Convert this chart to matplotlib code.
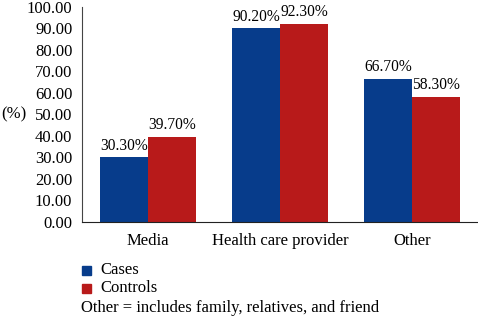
import numpy as np
import matplotlib
matplotlib.use("Agg")
import matplotlib.pyplot as plt
from matplotlib.patches import Rectangle

categories = ["Media", "Health care provider", "Other"]
cases = [30.3, 90.2, 66.7]
controls = [39.7, 92.3, 58.3]
series_names = ["Cases", "Controls"]
footnote = "Other = includes family, relatives, and friend"

blue = "#073c8b"
red = "#b81a1a"

plt.rcParams["font.family"] = ["Liberation Serif", "DejaVu Serif"]
plt.rcParams["font.size"] = 12

fig = plt.figure(figsize=(4.78, 3.17), dpi=100)
ax = fig.add_axes([0.1715, 0.2997, 0.8265, 0.6783])

x = np.arange(len(categories))
w = 0.364
b1 = ax.bar(x - w / 2, cases, w, color=blue)
b2 = ax.bar(x + w / 2, controls, w, color=red)

for bars, vals in ((b1, cases), (b2, controls)):
    for r, v in zip(bars, vals):
        ax.text(r.get_x() + r.get_width() / 2, v + 1.5, f"{v:.2f}%",
                ha="center", va="bottom", fontsize=11.2)

ax.set_xlim(-0.5, 2.49)
ax.set_ylim(0, 100)
ax.set_yticks(np.arange(0, 101, 10))
ax.set_yticklabels([f"{t:.2f}" for t in np.arange(0, 101, 10)])
ax.set_xticks(x)
ax.set_xticklabels(categories)
ax.tick_params(axis="x", length=0, pad=8)
ax.tick_params(axis="y", length=0, pad=7)
for s in ("top", "right"):
    ax.spines[s].set_visible(False)
ax.spines["left"].set_color("#444444")
ax.spines["bottom"].set_color("#222222")

fig.text(0.002, 1 - 114 / 317, "(%)", ha="left", va="center", fontsize=12)

# legend and footnote
for i, (name, c) in enumerate(zip(series_names, [blue, red])):
    yc = 1 - (270 + 18 * i) / 317
    fig.patches.append(Rectangle((82 / 478, yc - 4.5 / 317), 9 / 478, 9 / 317,
                                 transform=fig.transFigure, color=c))
    fig.text(100 / 478, yc, name, ha="left", va="center", fontsize=12)
fig.text(81 / 478, 1 - 308 / 317, footnote, ha="left", va="center", fontsize=12)

fig.savefig("out.png", dpi=100)
